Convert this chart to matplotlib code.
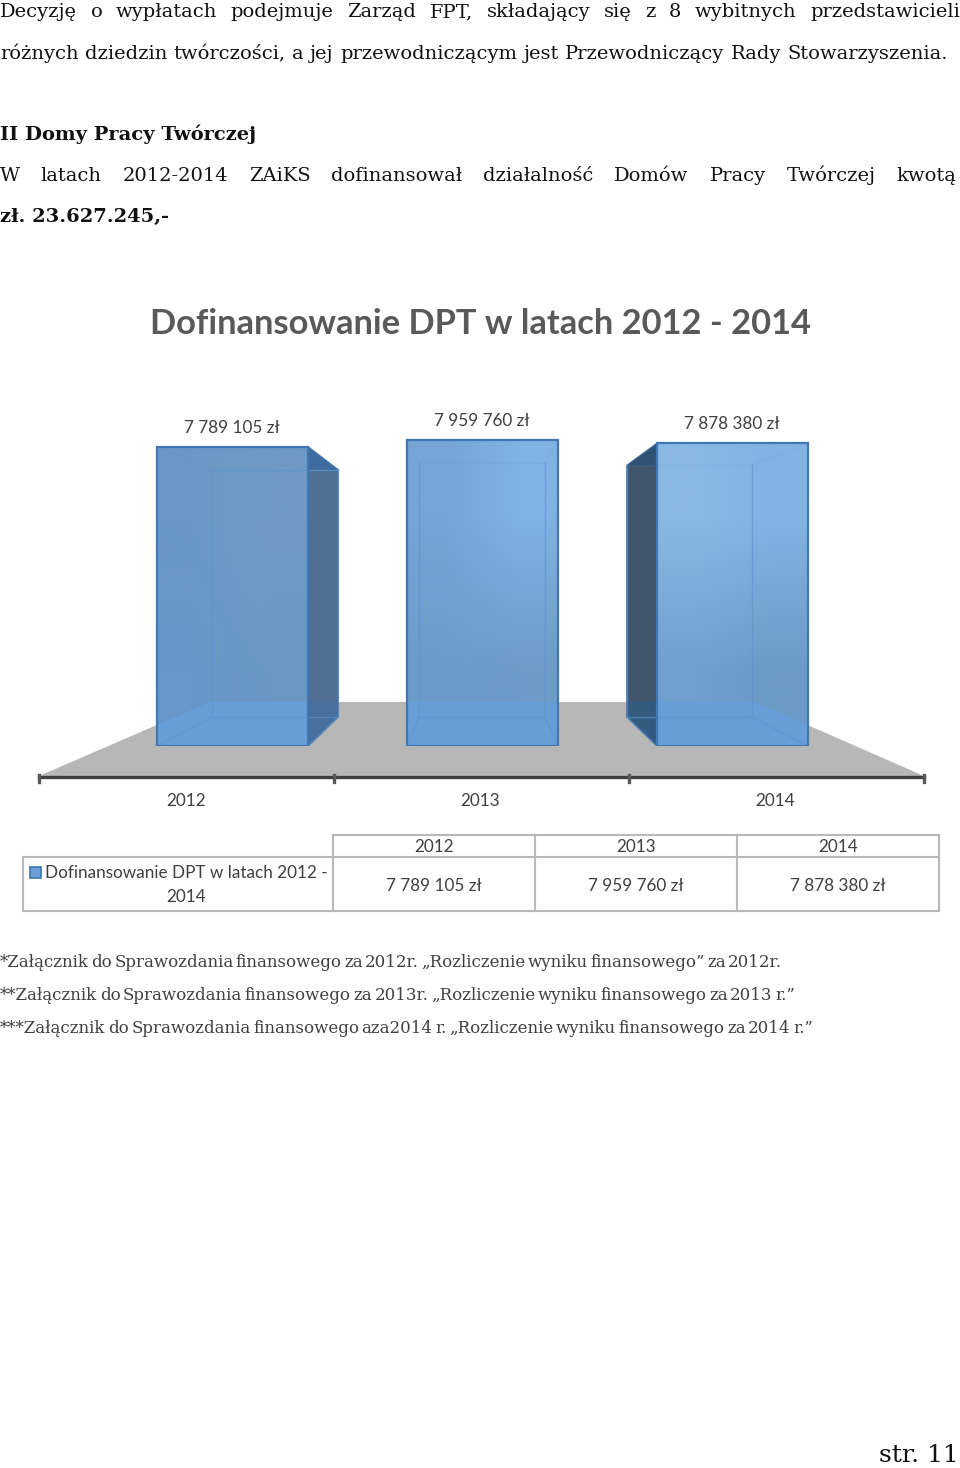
import matplotlib
matplotlib.use("Agg")
import matplotlib.pyplot as plt
import numpy as np
from matplotlib.colors import to_rgb
from matplotlib.patches import Polygon, Rectangle

YEARS = ["2012", "2013", "2014"]
AMOUNTS = [7789105, 7959760, 7878380]
AMOUNT_LABELS = ["7 789 105 zł", "7 959 760 zł", "7 878 380 zł"]
CHART_TITLE = "Dofinansowanie DPT w latach 2012 - 2014"
LEGEND_LINES = ["Dofinansowanie DPT w latach 2012 -", "2014"]

LINE_1 = "Decyzję o wypłatach podejmuje Zarząd FPT, składający się z 8 wybitnych przedstawicieli"
LINE_2 = "różnych dziedzin twórczości, a jej przewodniczącym jest Przewodniczący Rady Stowarzyszenia."
HEADING = "II Domy Pracy Twórczej"
LINE_3 = "W latach 2012-2014 ZAiKS dofinansował działalność Domów Pracy Twórczej kwotą"
LINE_4 = "zł. 23.627.245,-"
NOTE_1 = "*Załącznik do Sprawozdania finansowego za 2012r. „Rozliczenie wyniku finansowego” za 2012r."
NOTE_2 = "**Załącznik do Sprawozdania finansowego za 2013r. „Rozliczenie wyniku finansowego za 2013 r.”"
NOTE_3 = "***Załącznik do Sprawozdania finansowego aza2014 r. „Rozliczenie wyniku finansowego za 2014 r.”"
PAGE_NO = "str. 11"

PX_PER_BAR = 250
PX_PER_ZL = 3.84e-5
BAR_WIDTH = 151 / PX_PER_BAR

# left, right, top, bottom offset of the back face from the front face, in px
DEPTHS = [(55, 30, 23, -29), (12, -13, 23, -29), (-30, -56, 22, -29)]
# top left, top right, bottom left, bottom right
FACE_COLORS = [
	("#6a97c5", "#6e9ac5", "#6897c8", "#6a97c3"),
	("#76a5d5", "#80b2e3", "#6c9bca", "#6e9bc8"),
	("#8ab8e4", "#83b3e3", "#709fce", "#6c9ac6"),
]
SIDE_COLORS = ["#4f7094", None, "#40566c"]
SIDE_TOP_COLORS = ["#3f6c9e", None, "#2f5274"]
SIDE_FLOOR_COLORS = ["#47709c", None, "#345a80"]
BACK_TOP_ALPHA = [0.7, 0.12, 0.12]
FLOOR = [(39, 776), (210, 702), (755, 702), (924, 776)]

SERIF = "DejaVu Serif"
SANS = "Lato"
GREY_TEXT = "#404040"
BODY_SIZE = 14
NOTE_SIZE = 12
CHART_SIZE = 12.3


def add_words(ax, text, y, right, size, color="#111111", weight="normal"):
	# Word lays out justified lines, so stretch the gaps up to the right edge
	renderer = ax.figure.canvas.get_renderer()
	words = text.split(" ")
	artists = [ax.text(0, y, w, family=SERIF, fontsize=size, color=color, weight=weight, va="baseline", ha="left") for w in words]
	widths = [a.get_window_extent(renderer).width for a in artists]
	gap = (right - sum(widths)) / (len(words) - 1)
	x = 0
	for a, w in zip(artists, widths):
		a.set_x(x)
		x += w + gap


fig = plt.figure(figsize=(9.6, 14.68), dpi=100)

# page axes in pixels, y going down
page = fig.add_axes([0, 0, 1, 1])
page.set_xlim(0, 960)
page.set_ylim(1468, 0)
page.axis("off")

add_words(page, LINE_1, 17, 960, BODY_SIZE)
add_words(page, LINE_2, 59, 948, BODY_SIZE)
page.text(0, 140, HEADING, family=SERIF, fontsize=BODY_SIZE, weight="bold", color="#111111")
add_words(page, LINE_3, 181, 956, BODY_SIZE)
page.text(0, 222, LINE_4, family=SERIF, fontsize=BODY_SIZE, weight="bold", color="#111111")
add_words(page, NOTE_1, 967, 782, NOTE_SIZE, color=GREY_TEXT)
add_words(page, NOTE_2, 1000, 795, NOTE_SIZE, color=GREY_TEXT)
add_words(page, NOTE_3, 1033, 813, NOTE_SIZE, color=GREY_TEXT)
page.text(959, 1467.5, PAGE_NO, family=SERIF, fontsize=18, color="#111111", ha="right", va="bottom")

page.text(481, 324, CHART_TITLE, family=SANS, fontsize=24.8, weight="bold", color="#595959", ha="center", va="center")

# floor and category axis
page.add_patch(Polygon(FLOOR, closed=True, facecolor="#b7b7b7", edgecolor="none", zorder=1))
page.plot([39, 924], [777, 777], color="#404040", lw=2.4, zorder=2)
for i in range(len(YEARS) + 1):
	page.plot([39 + i * 295] * 2, [775, 782], color="#595959", lw=2.4, zorder=2)
for i, year in enumerate(YEARS):
	page.text(186 + i * 294.5, 801, year, family=SANS, fontsize=CHART_SIZE, color=GREY_TEXT, ha="center", va="center")

# bars, on their own axes so the heights come from the value scale
chart = fig.add_axes([0, (1468 - 746) / 1468, 1, 346 / 1468], zorder=2)
chart.patch.set_alpha(0)
chart.axis("off")
chart.set_xlim(-232.5 / PX_PER_BAR, (960 - 232.5) / PX_PER_BAR)
chart.set_ylim(0, 346 / PX_PER_ZL)

positions = np.arange(len(YEARS))
for i, (pos, amount) in enumerate(zip(positions, AMOUNTS)):
	left, right = pos - BAR_WIDTH / 2, pos + BAR_WIDTH / 2
	d_left, d_right, d_top, d_bottom = DEPTHS[i]
	back_l, back_r = left + d_left / PX_PER_BAR, right + d_right / PX_PER_BAR
	back_t, back_b = amount - d_top / PX_PER_ZL, -d_bottom / PX_PER_ZL

	front = Rectangle((left, 0), BAR_WIDTH, amount, transform=chart.transData)

	# side wall showing next to the front face
	if SIDE_COLORS[i] is not None:
		near = right if d_right > 0 else left
		far = back_r if d_right > 0 else back_l
		side_pts = [(near, amount), (far, back_t), (far, back_b), (near, 0)]
		chart.add_patch(Polygon(side_pts, closed=True, facecolor=SIDE_COLORS[i], edgecolor="#3f70a5", lw=1.2, zorder=2))
		chart.add_patch(Polygon([(near, amount), (far, back_t), (near, back_t)], closed=True, facecolor=SIDE_TOP_COLORS[i], edgecolor="none", zorder=2.1))
		on_floor = Polygon(FLOOR, closed=True, facecolor=SIDE_FLOOR_COLORS[i], edgecolor="none", transform=page.transData, zorder=2.1)
		chart.add_patch(on_floor)
		on_floor.set_clip_path(Polygon(side_pts, closed=True, transform=chart.transData))

	tl, tr, bl, br = [to_rgb(c) for c in FACE_COLORS[i]]
	chart.imshow(np.array([[tl, tr], [bl, br]]), extent=(left, right, 0, amount), origin="upper", aspect="auto",
		interpolation="bilinear", zorder=3, clip_path=front)

	# the floor shines through the glass
	through = Polygon(FLOOR, closed=True, facecolor="#679ed8", edgecolor="none", transform=page.transData, zorder=3.1)
	chart.add_patch(through)
	through.set_clip_path(front)

	# inner box lines, the upper ones hardly show
	line_kw = dict(color="#5a94cf", lw=1, alpha=0.6, zorder=3.2)
	top_kw = dict(line_kw, alpha=BACK_TOP_ALPHA[i])
	chart.plot([back_l, back_l, back_r, back_r], [back_t, back_b, back_b, back_t], **line_kw)
	chart.plot([left, back_l], [0, back_b], **line_kw)
	chart.plot([right, back_r], [0, back_b], **line_kw)
	chart.plot([back_l, back_r], [back_t, back_t], **top_kw)
	chart.plot([left, back_l], [amount, back_t], **dict(top_kw, alpha=0.12))
	chart.plot([right, back_r], [amount, back_t], **dict(top_kw, alpha=0.12))

chart.bar(positions, AMOUNTS, width=BAR_WIDTH, facecolor="none", edgecolor="#3f78b5", lw=1.6, zorder=4)
chart.set_xlim(-232.5 / PX_PER_BAR, (960 - 232.5) / PX_PER_BAR)
chart.set_ylim(0, 346 / PX_PER_ZL)

for pos, amount, label in zip(positions, AMOUNTS, AMOUNT_LABELS):
	chart.annotate(label, (pos - 0.004, amount), xytext=(0, 13.7), textcoords="offset points", family=SANS, fontsize=CHART_SIZE,
		color=GREY_TEXT, ha="center", va="center", annotation_clip=False)

# data table
grid = dict(color="#b9b9b9", lw=1.5, zorder=2, solid_capstyle="projecting")
col_x = [333, 535, 737, 939]
page.plot([333, 939], [835, 835], **grid)
page.plot([23, 939], [857, 857], **grid)
page.plot([23, 939], [911, 911], **grid)
page.plot([23, 23], [857, 911], **grid)
for x in col_x:
	page.plot([x, x], [835, 911], **grid)
for i, (year, label) in enumerate(zip(YEARS, AMOUNT_LABELS)):
	cx = (col_x[i] + col_x[i + 1]) / 2
	page.text(cx, 847, year, family=SANS, fontsize=CHART_SIZE, color=GREY_TEXT, ha="center", va="center")
	page.text(cx, 886, label, family=SANS, fontsize=CHART_SIZE, color=GREY_TEXT, ha="center", va="center")

page.add_patch(Rectangle((30, 867), 11, 11, facecolor="#6a9fd8", edgecolor="#3f75ad", lw=1.2, zorder=2))
page.text(186.5, 873, LEGEND_LINES[0], family=SANS, fontsize=CHART_SIZE, color=GREY_TEXT, ha="center", va="center")
page.text(186, 897, LEGEND_LINES[1], family=SANS, fontsize=CHART_SIZE, color=GREY_TEXT, ha="center", va="center")

fig.savefig("out.png", dpi=100)
